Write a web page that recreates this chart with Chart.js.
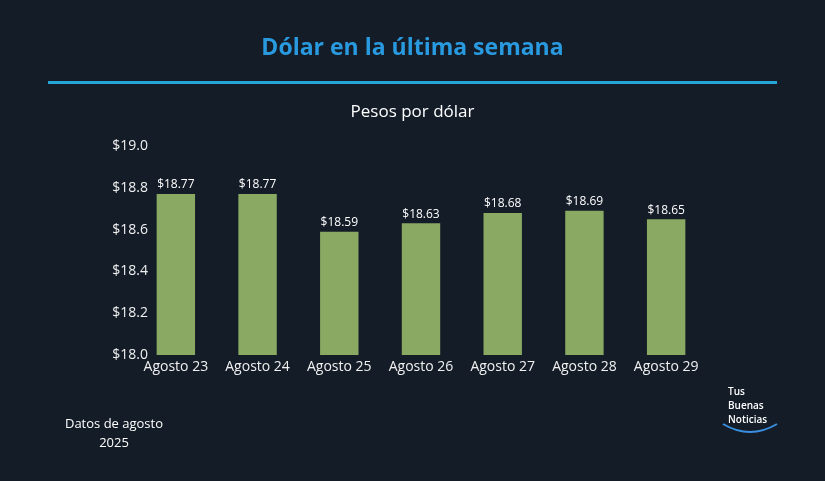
<!DOCTYPE html>
<html><head><meta charset="utf-8">
<script src="https://cdn.jsdelivr.net/npm/chart.js@4"></script>
<style>
body{margin:0;background:#131c27;width:825px;height:481px;overflow:hidden;font-family:"Open Sans",sans-serif;position:relative}
#wrap{position:absolute;left:0;top:0;width:825px;height:481px}
.t{position:absolute;color:#fff}
</style></head><body>
<div id="wrap"><canvas id="c" width="825" height="481"></canvas></div>
<div class="t" style="left:0;width:825px;top:30px;text-align:center;font-size:23px;font-weight:bold;color:#2a9ae0">Dólar en la última semana</div>
<div style="position:absolute;left:48px;width:729px;top:81px;height:3px;background:#25a5d8"></div>
<div class="t" style="left:0;width:825px;top:99px;text-align:center;font-size:17px">Pesos por dólar</div>
<div class="t" style="left:44px;width:140px;top:414px;text-align:center;font-size:13px;line-height:19px">Datos de agosto<br>2025</div>
<div class="t" style="left:728px;top:384px;font-size:10px;line-height:14px;font-weight:600">Tus<br>Buenas<br>Noticias</div>
<svg style="position:absolute;left:720px;top:420px" width="60" height="18"><path d="M3 4 Q30 20 57 4" stroke="#3a8fe0" stroke-width="2" fill="none"/></svg>
<script>
const dias = ['Agosto 23','Agosto 24','Agosto 25','Agosto 26','Agosto 27','Agosto 28','Agosto 29'];
const precios = [18.77, 18.77, 18.59, 18.63, 18.68, 18.69, 18.65];
const ticksY = [18.0, 18.2, 18.4, 18.6, 18.8, 19.0];

// value labels above bars + y tick labels drawn a bit inside the plot
const labelsPlugin = {
  id: 'labelsPlugin',
  afterDatasetsDraw(chart) {
    const ctx = chart.ctx;
    ctx.save();
    ctx.fillStyle = '#ffffff';
    ctx.font = '12px "Open Sans"';
    ctx.textAlign = 'center';
    ctx.textBaseline = 'bottom';
    chart.getDatasetMeta(0).data.forEach((bar, i) => {
      ctx.fillText('$' + precios[i].toFixed(2), bar.x, bar.y - 3);
    });
    const y = chart.scales.y;
    ctx.fillStyle = '#f0f0f0';
    ctx.font = '14px "Open Sans"';
    ctx.textAlign = 'right';
    ctx.textBaseline = 'middle';
    ticksY.forEach(v => ctx.fillText('$' + v.toFixed(1), y.right + 13, y.getPixelForValue(v)));
    ctx.restore();
  }
};

new Chart(document.getElementById('c'), {
  type: 'bar',
  data: { labels: dias, datasets: [{ data: precios, backgroundColor: '#8aaa64', barPercentage: 0.47, categoryPercentage: 1 }] },
  options: {
    responsive: false, animation: false, devicePixelRatio: 1,
    layout: { padding: { left: 95, right: 118, top: 146, bottom: 96 } },
    plugins: { legend: { display: false }, tooltip: { enabled: false } },
    scales: {
      x: {
        grid: { display: false, drawTicks: false }, border: { display: false },
        ticks: { color: '#f0f0f0', font: { size: 14, family: 'Open Sans' }, padding: 4, maxRotation: 0 },
        afterFit: s => { s.height = 30; }
      },
      y: {
        min: 18, max: 19,
        grid: { display: false, drawTicks: false }, border: { display: false },
        ticks: { display: false },
        afterFit: s => { s.width = 40; }
      }
    }
  },
  plugins: [labelsPlugin]
});
</script>
</body></html>
